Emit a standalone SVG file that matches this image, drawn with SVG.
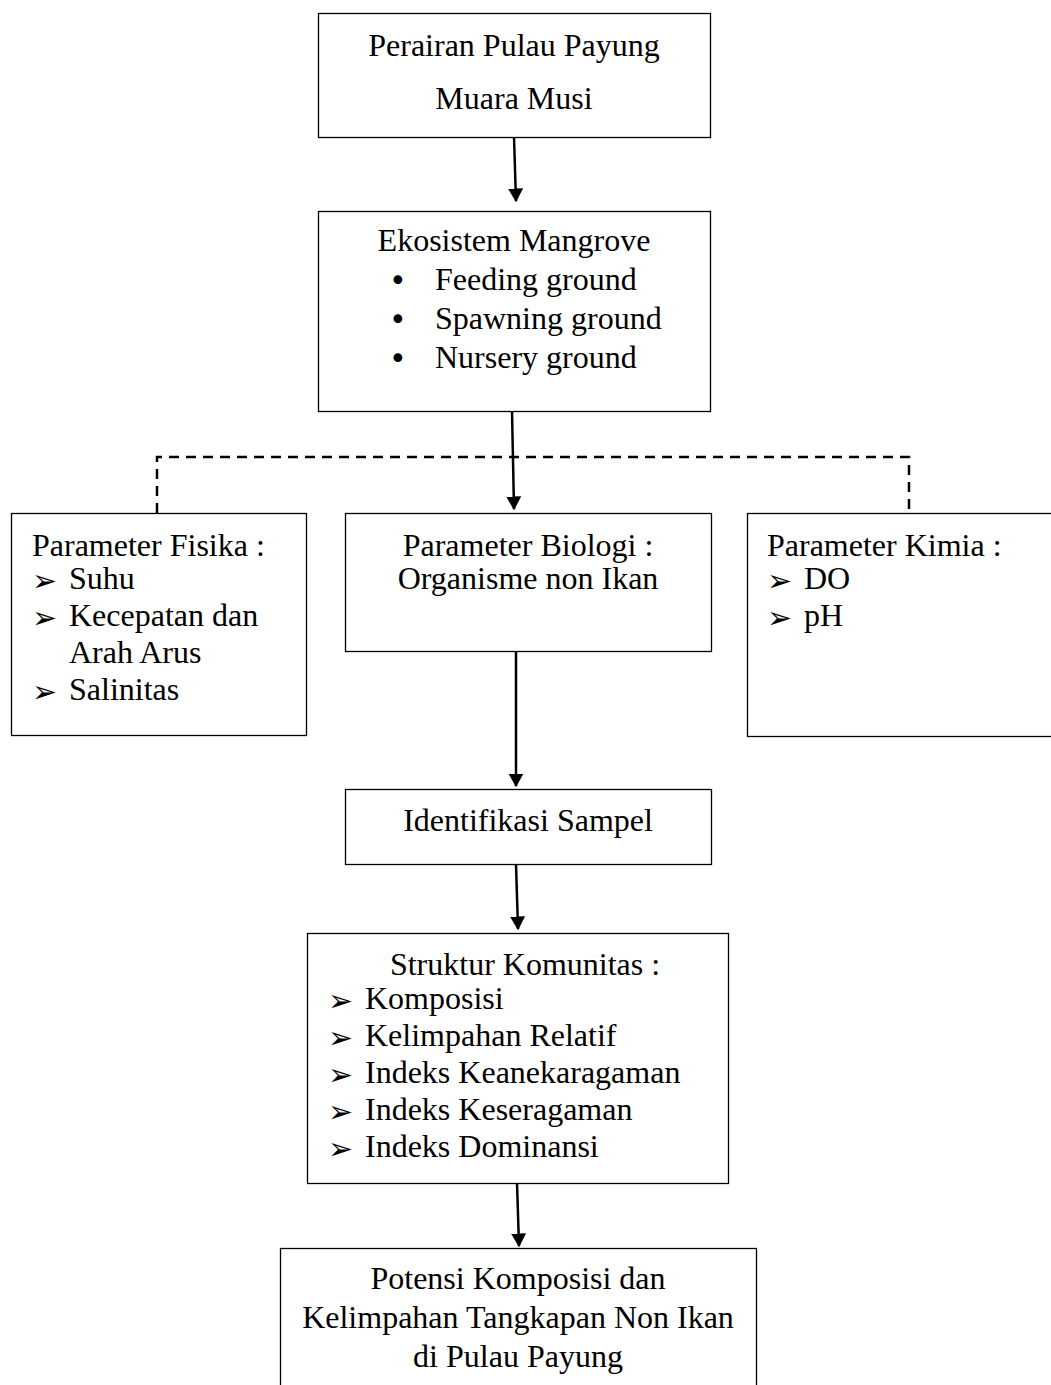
<svg xmlns="http://www.w3.org/2000/svg" width="1051" height="1385" viewBox="0 0 1051 1385">
<style>
.box{fill:#fff;stroke:#000;stroke-width:1.3}
.t{font-family:"Liberation Serif","Times New Roman",serif;font-size:32px;fill:#000}
.c{text-anchor:middle}
.b{font-family:"DejaVu Sans",sans-serif;font-size:30px;fill:#000}
.dot{font-family:"DejaVu Sans",sans-serif;font-size:30px;fill:#000}
.ln{stroke:#000;stroke-width:2.5;fill:none}
.dash{stroke:#000;stroke-width:2.5;fill:none;stroke-dasharray:10 7}
</style>
<defs>
<marker id="ah" markerWidth="6" markerHeight="6" refX="5" refY="3" orient="auto" markerUnits="strokeWidth">
<path d="M0,0 L5.5,3 L0,6 Z" fill="#000"/>
</marker>
</defs>
<rect width="1051" height="1385" fill="#fff"/>
<g id="connectors">
<line class="ln" x1="514" y1="137" x2="516" y2="201" marker-end="url(#ah)"/>
<line class="ln" x1="512" y1="411" x2="514" y2="509" marker-end="url(#ah)"/>
<polyline class="dash" points="157,513 157,457 909,457 909,513"/>
<line class="ln" x1="516" y1="651" x2="516" y2="786" marker-end="url(#ah)"/>
<line class="ln" x1="516" y1="864" x2="518" y2="929" marker-end="url(#ah)"/>
<line class="ln" x1="517" y1="1183" x2="519" y2="1246" marker-end="url(#ah)"/>
</g>
<g id="n1">
<rect class="box" x="318.5" y="13.5" width="392" height="124"/>
<text class="t c" x="514" y="56">Perairan Pulau Payung</text>
<text class="t c" x="514" y="109">Muara Musi</text>
</g>
<g id="n2">
<rect class="box" x="318.5" y="211.5" width="392" height="200"/>
<text class="t c" x="514" y="251">Ekosistem Mangrove</text>
<text class="dot" x="389" y="291">•</text><text class="t" x="435" y="290">Feeding ground</text>
<text class="dot" x="389" y="330">•</text><text class="t" x="435" y="329">Spawning ground</text>
<text class="dot" x="389" y="369">•</text><text class="t" x="435" y="368">Nursery ground</text>
</g>
<g id="n3">
<rect class="box" x="11.5" y="513.5" width="295" height="222"/>
<text class="t" x="32" y="556">Parameter Fisika :</text>
<text class="b" x="32" y="591">➢</text><text class="t" x="69" y="589">Suhu</text>
<text class="b" x="32" y="628">➢</text><text class="t" x="69" y="626">Kecepatan dan</text>
<text class="t" x="69" y="663">Arah Arus</text>
<text class="b" x="32" y="702">➢</text><text class="t" x="69" y="700">Salinitas</text>
</g>
<g id="n4">
<rect class="box" x="345.5" y="513.5" width="366" height="138"/>
<text class="t c" x="528" y="556">Parameter Biologi :</text>
<text class="t c" x="528" y="589">Organisme non Ikan</text>
</g>
<g id="n5">
<rect class="box" x="747.5" y="513.5" width="310" height="223"/>
<text class="t" x="767" y="556">Parameter Kimia :</text>
<text class="b" x="767" y="591">➢</text><text class="t" x="804" y="589">DO</text>
<text class="b" x="767" y="628">➢</text><text class="t" x="804" y="626">pH</text>
</g>
<g id="n6">
<rect class="box" x="345.5" y="789.5" width="366" height="75"/>
<text class="t c" x="528" y="831">Identifikasi Sampel</text>
</g>
<g id="n7">
<rect class="box" x="307.5" y="933.5" width="421" height="250"/>
<text class="t c" x="525" y="975">Struktur Komunitas :</text>
<text class="b" x="328" y="1011">➢</text><text class="t" x="365" y="1009">Komposisi</text>
<text class="b" x="328" y="1048">➢</text><text class="t" x="365" y="1046">Kelimpahan Relatif</text>
<text class="b" x="328" y="1085">➢</text><text class="t" x="365" y="1083">Indeks Keanekaragaman</text>
<text class="b" x="328" y="1122">➢</text><text class="t" x="365" y="1120">Indeks Keseragaman</text>
<text class="b" x="328" y="1159">➢</text><text class="t" x="365" y="1157">Indeks Dominansi</text>
</g>
<g id="n8">
<rect class="box" x="280.5" y="1248.5" width="476" height="150"/>
<text class="t c" x="518" y="1289">Potensi Komposisi dan</text>
<text class="t c" x="518" y="1328">Kelimpahan Tangkapan Non Ikan</text>
<text class="t c" x="518" y="1367">di Pulau Payung</text>
</g>
</svg>
